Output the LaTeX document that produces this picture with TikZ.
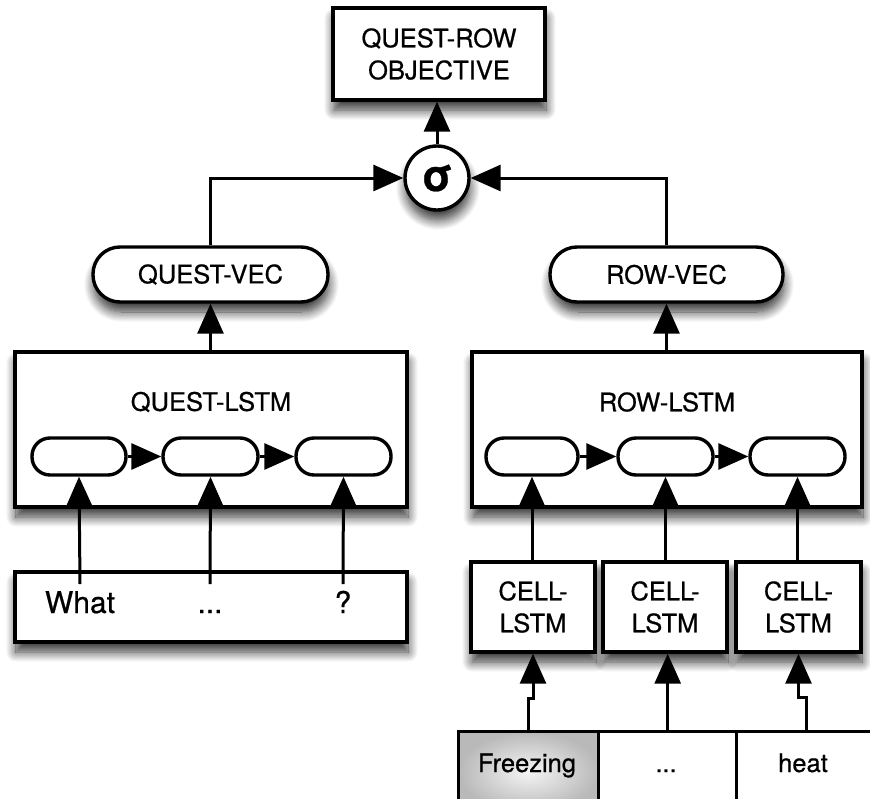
\documentclass[tikz,border=0pt]{standalone}
\usepackage{fontspec}
\setmainfont{TeX Gyre Heros}[FakeBold=0.6]
\usetikzlibrary{arrows.meta,shadows.blur}
\tikzset{
  box/.style={draw,line width=3.4pt,fill=white,inner sep=0pt,align=center,
    font=\fontsize{25.5}{32}\selectfont},
  shad/.style={blur shadow={shadow xshift=1pt,shadow yshift=-10pt,shadow blur steps=12,shadow opacity=80,shadow blur radius=10pt}},
  pill/.style={box,rounded corners=#1},
  lbl/.style={inner sep=0pt,font=\fontsize{25.5}{32}\selectfont},
  word/.style={inner sep=0pt,anchor=base,font=\fontsize{30}{36}\selectfont},
  tword/.style={inner sep=0pt,anchor=base,font=\fontsize{25.5}{32}\selectfont},
  arr/.style={line width=3pt,-{Triangle[length=30pt,width=26pt]}},
}
\begin{document}
\begin{tikzpicture}[x=1pt,y=-1pt]
\useasboundingbox (0,0) rectangle (870,798);

% top
\node[box,shad,minimum width=212pt,minimum height=92pt] (obj) at (439,54) {QUEST-ROW\\OBJECTIVE};
\node[box,shad,circle,minimum size=64pt,font=\fontsize{44}{44}\selectfont\bfseries] (sig) at (437,178) {σ};

% vectors
\node[pill=27pt,shad,minimum width=235pt,minimum height=55pt] (qvec) at (210.5,274.5) {QUEST-VEC};
\node[pill=27pt,shad,minimum width=233pt,minimum height=55pt] (rvec) at (666.5,274.5) {ROW-VEC};

% LSTM boxes
\node[box,shad,minimum width=392pt,minimum height=155pt] (qlstm) at (211,429.5) {};
\node[box,shad,minimum width=390pt,minimum height=155pt] (rlstm) at (667,429.5) {};
\node[lbl] (qlbl) at (211,402) {QUEST-LSTM};
\node[lbl] (rlbl) at (667,402) {ROW-LSTM};

% pills inside
\node[pill=18pt,minimum width=94pt,minimum height=37pt] (q1) at (79,456.5) {};
\node[pill=18pt,minimum width=95pt,minimum height=37pt] (q2) at (210.5,456.5) {};
\node[pill=18pt,minimum width=95pt,minimum height=37pt] (q3) at (343.5,456.5) {};
\node[pill=18pt,minimum width=92pt,minimum height=37pt] (r1) at (532,456.5) {};
\node[pill=18pt,minimum width=95pt,minimum height=37pt] (r2) at (665.5,456.5) {};
\node[pill=18pt,minimum width=95pt,minimum height=37pt] (r3) at (797.5,456.5) {};

% question words
\node[box,shad,minimum width=392pt,minimum height=70pt] (qin) at (211,607) {};
\node[word] (w1) at (80,613) {What};
\node[word] (w2) at (210,613) {...};
\node[word] (w3) at (343,613) {?};
\coordinate (w1t) at (80,584);
\coordinate (w2t) at (210,584);
\coordinate (w3t) at (343,584);

% cell LSTMs
\node[box,shad,minimum width=124pt,minimum height=90pt] (c1) at (533,607) {CELL-\\LSTM};
\node[box,shad,minimum width=124pt,minimum height=90pt] (c2) at (665,607) {CELL-\\LSTM};
\node[box,shad,minimum width=125pt,minimum height=90pt] (c3) at (798.5,607) {CELL-\\LSTM};

% table
\node[box,minimum width=140pt,minimum height=80pt,anchor=north west,inner color=gray!8,outer color=gray!55] (t1) at (457,730) {};
\node[box,minimum width=138pt,minimum height=80pt,anchor=north west] (t2) at (597,730) {};
\node[box,minimum width=140pt,minimum height=80pt,anchor=north west] (t3) at (735,730) {};
\node[tword] (t1w) at (527,772) {Freezing};
\node[tword] (t2w) at (666,772) {...};
\node[tword] (t3w) at (803,772) {heat};

% connectors
\draw[arr] (sig.north) -- (sig.north |- obj.south);
\draw[arr] (qvec.north) |- (sig.west);
\draw[arr] (rvec.north) |- (sig.east);
\draw[arr] (qlstm.north -| qvec.south) -- (qvec.south);
\draw[arr] (rlstm.north -| rvec.south) -- (rvec.south);
\draw[arr] (q1.east) -- (q2.west);
\draw[arr] (q2.east) -- (q3.west);
\draw[arr] (r1.east) -- (r2.west);
\draw[arr] (r2.east) -- (r3.west);
\draw[arr] (w1t) -- (q1.south);
\draw[arr] (w2t) -- (q2.south);
\draw[arr] (w3t) -- (q3.south);
\draw[arr] (c1.north -| r1.south) -- (r1.south);
\draw[arr] (c2.north -| r2.south) -- (r2.south);
\draw[arr] (c3.north -| r3.south) -- (r3.south);
\draw[arr] (t1.north) -- ++(0,-32) -| (c1.south);
\draw[arr] (t2.north) -- (t2.north |- c2.south);
\draw[arr] (t3.north) -- ++(0,-33) -| (c3.south);
\end{tikzpicture}
\end{document}
